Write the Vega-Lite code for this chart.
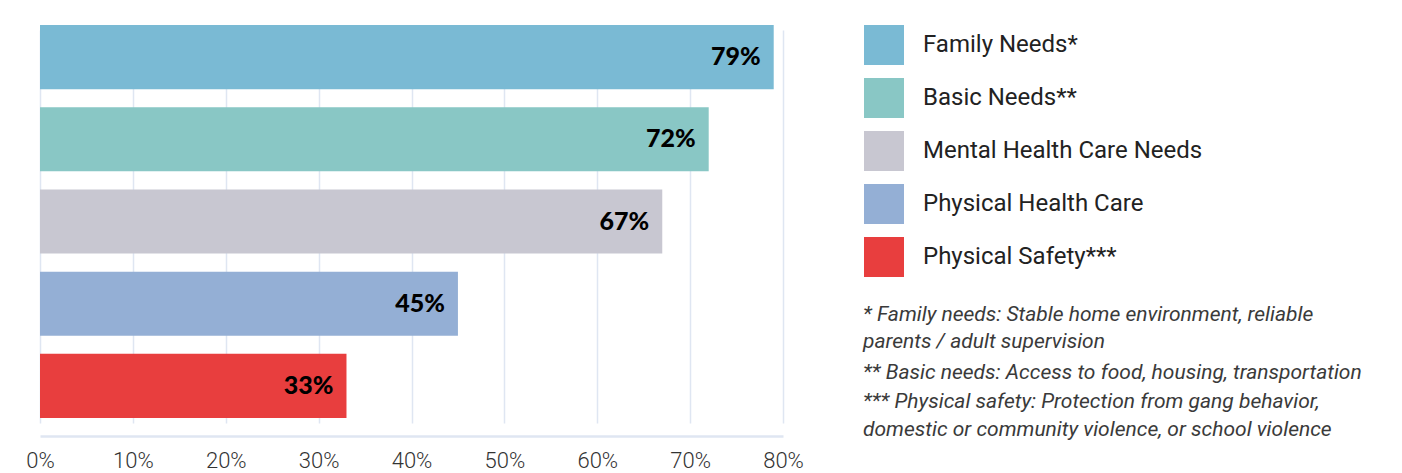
{
  "$schema": "https://vega.github.io/schema/vega-lite/v6.json",
  "width": 743,
  "height": 424,
  "autosize": {"type": "none"},
  "padding": {"left": 40, "top": 12, "right": 619, "bottom": 37},
  "background": "white",
  "config": {"view": {"stroke": null}},
  "title": {
    "text": ["* Family needs: Stable home environment, reliable", "parents / adult supervision"],
    "subtitle": ["** Basic needs: Access to food, housing, transportation", "*** Physical safety: Protection from gang behavior,", "domestic or community violence, or school violence"],
    "orient": "top",
    "anchor": "start",
    "frame": "group",
    "dx": 823,
    "dy": 432,
    "font": "Roboto",
    "fontStyle": "italic",
    "fontWeight": "normal",
    "fontSize": 21,
    "color": "#3a3a3a",
    "lineHeight": 27,
    "subtitleFont": "Roboto",
    "subtitleFontStyle": "italic",
    "subtitleFontWeight": "normal",
    "subtitleFontSize": 21,
    "subtitleColor": "#3a3a3a",
    "subtitleLineHeight": 28.5,
    "subtitlePadding": 10
  },
  "data": {
    "values": [
      {"category": "Family Needs*", "value": 0.79},
      {"category": "Basic Needs**", "value": 0.72},
      {"category": "Mental Health Care Needs", "value": 0.67},
      {"category": "Physical Health Care", "value": 0.45},
      {"category": "Physical Safety***", "value": 0.33}
    ]
  },
  "encoding": {
    "y": {
      "field": "category",
      "type": "nominal",
      "sort": null,
      "axis": null,
      "scale": {"range": [13, 406], "paddingInner": 0.2195, "paddingOuter": 0}
    },
    "x": {
      "field": "value",
      "type": "quantitative",
      "scale": {"domain": [0, 0.8], "nice": false},
      "axis": {
        "values": [0, 0.1, 0.2, 0.3, 0.4, 0.5, 0.6, 0.7, 0.8],
        "format": ".0%",
        "title": null,
        "grid": true,
        "gridColor": "#dfe6f2",
        "gridWidth": 1.5,
        "domain": true,
        "domainColor": "#dfe6f2",
        "domainWidth": 2.5,
        "ticks": false,
        "labelFont": "Roboto",
        "labelFontSize": 22,
        "labelFontWeight": 300,
        "labelColor": "#333333",
        "labelPadding": 14,
        "labelFlush": false
      }
    }
  },
  "layer": [
    {
      "mark": {"type": "bar", "opacity": 1},
      "encoding": {
        "color": {
          "field": "category",
          "type": "nominal",
          "sort": null,
          "scale": {
            "domain": ["Family Needs*", "Basic Needs**", "Mental Health Care Needs", "Physical Health Care", "Physical Safety***"],
            "range": ["#7abad4", "#89c7c5", "#c8c7d1", "#94afd5", "#e83e3e"]
          },
          "legend": {
            "orient": "none",
            "legendX": 824,
            "legendY": 13,
            "direction": "vertical",
            "title": null,
            "padding": 0,
            "symbolType": "square",
            "symbolSize": 1600,
            "symbolStrokeWidth": 0,
            "symbolOpacity": 1,
            "labelFont": "Roboto",
            "labelFontSize": 24,
            "labelColor": "#222222",
            "labelOffset": 19,
            "rowPadding": 13,
            "labelLimit": 400
          }
        }
      }
    },
    {
      "mark": {
        "type": "text",
        "align": "right",
        "baseline": "middle",
        "dx": -13,
        "font": "Lato",
        "fontWeight": 900,
        "fontSize": 25,
        "color": "#000000"
      },
      "encoding": {
        "text": {"field": "value", "type": "quantitative", "format": ".0%"}
      }
    }
  ]
}
